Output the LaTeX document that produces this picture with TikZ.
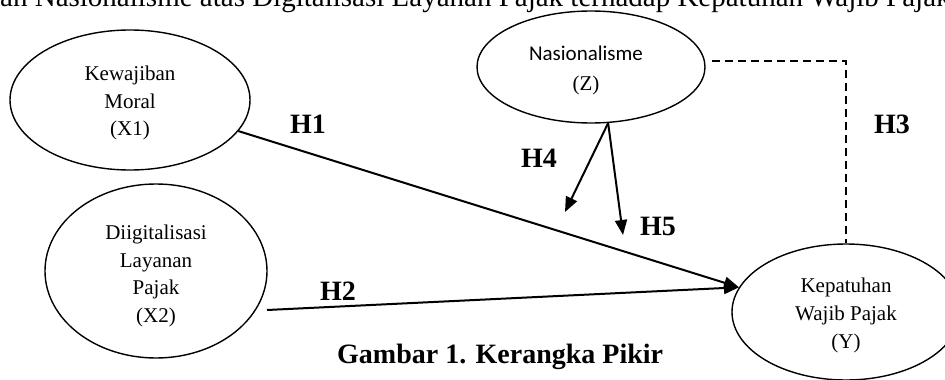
\documentclass[tikz,border=0pt]{standalone}
\usepackage{fontspec}
\setmainfont{Liberation Serif}
\newfontfamily\calibfont{Carlito}
\usetikzlibrary{arrows.meta,shapes.geometric}
\begin{document}
\begin{tikzpicture}[x=1pt,y=-1pt,
  var/.style={draw, ellipse, line width=1.4pt, inner sep=0pt},
  vtext/.style={align=center, inner sep=0pt, font=\fontsize{21}{27.5}\selectfont},
  hlab/.style={anchor=base, inner sep=0pt, font=\fontsize{28}{30}\selectfont\bfseries},
  conn/.style={line width=2pt, -{Triangle[length=15pt,width=12pt]}},
  dashline/.style={line width=1.3pt, dash pattern=on 8pt off 5pt}]
\useasboundingbox (0,0) rectangle (945,380);
\clip (0,0) rectangle (945,380);

% header (cut off at the top)
\node[anchor=base west, inner sep=0pt, font=\fontsize{29}{30}\selectfont] (head) at (0,6)
  {an Nasionalisme atas Digitalisasi Layanan Pajak terhadap Kepatuhan Wajib Pajak};

% ellipses
\node[var, minimum width=240pt, minimum height=140pt] (x1) at (130,100) {};
\node[var, minimum width=222pt, minimum height=174pt] (x2) at (156,271) {};
\node[var, minimum width=228pt, minimum height=112pt] (z) at (591,67) {};
\node[var, minimum width=228pt, minimum height=136pt] (y) at (846,312) {};

% ellipse texts
\node[vtext] (x1t) at (130,103) {Kewajiban\\Moral\\(X1)};
\node[vtext] (x2t) at (156,276) {Diigitalisasi\\Layanan\\Pajak\\(X2)};
\node[vtext, font=\fontsize{21}{30}\selectfont] (zt) at (586,70) {{\calibfont Nasionalisme}\\(Z)};
\node[vtext, font=\fontsize{21}{28}\selectfont] (yt) at (846,315) {Kepatuhan\\Wajib Pajak\\(Y)};

% free ends
\coordinate (h2s) at (267,310);
\coordinate (h4e) at (565,212);
\coordinate (h5e) at (623,235);
\coordinate (d0) at (712,61);

% connectors
\draw[conn] (x1.-16) -- (y.167);
\draw[conn] (h2s) -- (y.167);
\draw[conn] (z.-73) -- (h4e);
\draw[conn] (z.-73) -- (h5e);
\draw[dashline] (d0) -| (y.north);

% labels
\node[hlab] (lh1) at (308,133) {H1};
\node[hlab] (lh2) at (338,300) {H2};
\node[hlab] (lh3) at (892,133) {H3};
\node[hlab] (lh4) at (539,167) {H4};
\node[hlab] (lh5) at (658,235) {H5};

% caption
\node[anchor=base west, inner sep=0pt, font=\fontsize{28}{30}\selectfont\bfseries] (cap) at (337,363)
  {Gambar 1. Kerangka Pikir};
\end{tikzpicture}
\end{document}
